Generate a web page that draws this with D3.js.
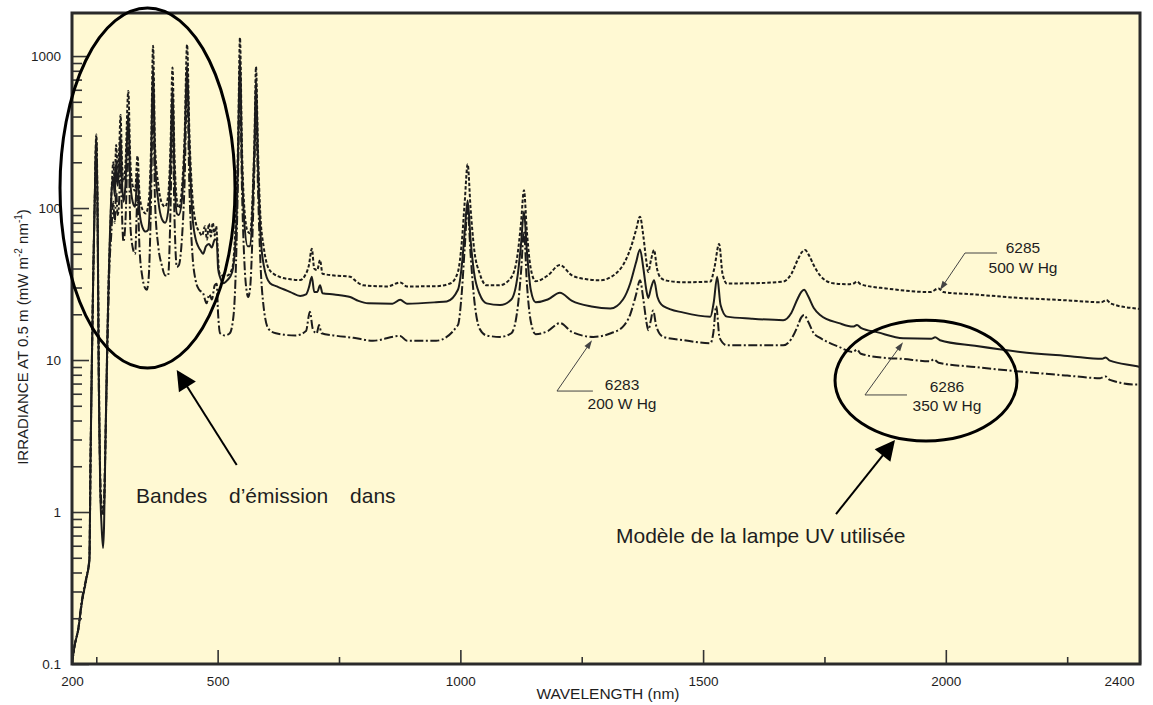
<!DOCTYPE html>
<html><head><meta charset="utf-8">
<script src="https://cdn.jsdelivr.net/npm/d3@7"></script>
<style>
body{margin:0;background:#fff}
svg text{font-family:"Liberation Sans",Arial,Helvetica,sans-serif;fill:#1e1e1e}
</style>
</head><body>
<svg id="chart" width="1153" height="705"></svg>
<script>
// ---------- DATA ----------
const xTickValues = [200, 500, 1000, 1500, 2000, 2400];
const xTickLabels = ["200", "500", "1000", "1500", "2000", "2400"];
const xMinorTicks = [250, 750, 1250, 1750, 2250];
const yTickValues = [0.1, 1, 10, 100, 1000];
const yTickLabels = ["0.1", "1", "10", "100", "1000"];

// 6285 - 500 W Hg (dotted)
const lamp6285 = [[200,0.1],[205,0.13],[213,0.17],[220,0.25],[230,0.37],[236,0.5],[238,2],[241,10],[244,40],[247,120],[250,305],[253,80],[255,12],[257,3],[259,1.2],[262,1.0],[264,0.95],[266,1.1],[269,3],[272,10],[275,30],[278,60],[282,140],[285,200],[288,150],[291,260],[294,180],[297,230],[300,410],[303,200],[306,150],[310,190],[316,590],[320,210],[325,140],[330,130],[335,220],[339,125],[345,98],[352,92],[358,110],[363,260],[367,1170],[371,260],[378,140],[385,108],[392,102],[398,120],[403,260],[407,840],[411,230],[416,112],[420,100],[426,130],[432,300],[437,1190],[442,300],[448,120],[455,80],[462,70],[468,66],[474,76],[478,62],[482,79],[486,65],[490,80],[494,66],[497,76],[500,55],[503,38],[510,36],[520,36],[530,40],[537,80],[542,260],[546,1320],[550,260],[555,100],[562,70],[567,68],[572,120],[576,300],[579,850],[583,250],[588,90],[595,55],[605,40],[615,37],[630,35],[650,34],[670,33.6],[680,36],[688,42],[694,54],[699,40],[705,39],[711,45.5],[716,37],[740,36],[773,35.3],[785,33],[800,31],[850,30.5],[876,32.4],[890,30.5],[950,30.6],[980,32],[995,38],[1003,60],[1009,110],[1015,194],[1021,100],[1028,55],[1040,37],[1054,31],[1080,31],[1105,35],[1118,50],[1125,80],[1131,131],[1137,70],[1145,40],[1155,33],[1180,36],[1205,42.2],[1230,36],[1260,34],[1288,33.5],[1320,37],[1340,45],[1352,56],[1362,72],[1370,87.7],[1377,65],[1383,45],[1387,38],[1393,46],[1399,53],[1405,40],[1412,35],[1425,33.3],[1460,32.5],[1515,32.8],[1523,40],[1533,58],[1540,37],[1549,31.9],[1600,32],[1665,32.8],[1682,37],[1694,45],[1703,51],[1710,53],[1718,49],[1728,42],[1741,36],[1768,32],[1800,31.5],[1810,31.9],[1817,32.8],[1825,31.5],[1880,29.5],[1968,28],[1985,29.6],[1995,28],[2060,27],[2153,25.6],[2250,24.7],[2320,24],[2331,24.8],[2340,23.5],[2394,21.8],[2400,21.7]];

// 6286 - 350 W Hg (solid)
const lamp6286 = [[200,0.1],[205,0.13],[213,0.17],[220,0.25],[230,0.37],[236,0.48],[238,2],[241,10],[244,40],[247,120],[250,290],[253,70],[255,8],[258,1.5],[261,0.8],[264,0.58],[266,0.8],[269,3],[273,15],[277,50],[281,120],[285,160],[288,120],[291,200],[294,140],[297,180],[300,300],[303,150],[306,110],[310,140],[316,420],[320,150],[325,110],[330,102],[335,170],[339,95],[345,75],[352,70],[357,72],[363,200],[367,850],[371,200],[378,110],[385,85],[392,80],[398,95],[403,200],[407,620],[411,170],[416,92],[420,90],[426,110],[432,250],[437,870],[442,240],[448,90],[455,62],[460,56],[466,52],[470,50],[476,56],[482,58],[488,55],[494,62],[498,62],[501,40],[505,35],[512,32],[520,33.5],[530,38],[538,70],[542,220],[546,1000],[550,200],[555,80],[562,56],[567,56],[572,100],[576,260],[579,700],[583,200],[588,70],[595,42],[608,32],[622,30.5],[650,28],[670,26.4],[682,27],[688,30],[694,35.3],[699,28],[705,28],[711,31],[716,27.5],[740,27],[773,26],[790,24.5],[810,23.6],[860,23.5],[876,24.9],[890,23.5],[950,24],[972,24.3],[995,29],[1003,42],[1009,70],[1015,112],[1021,62],[1028,38],[1040,27],[1054,23.6],[1082,23],[1105,25],[1118,36],[1125,58],[1131,95],[1137,52],[1145,29],[1155,24],[1180,25],[1205,27.7],[1230,24.5],[1270,22.5],[1309,21.8],[1335,25],[1350,32],[1362,44],[1370,53.4],[1377,40],[1383,29],[1387,25.6],[1393,30],[1399,33.5],[1406,26],[1418,22.6],[1460,20.5],[1515,19.3],[1522,24],[1529,35.3],[1536,23],[1549,19.3],[1600,18.7],[1665,18.3],[1682,20.5],[1694,25],[1702,28],[1708,29],[1716,26.5],[1728,22],[1741,19.8],[1780,17.5],[1809,16.6],[1817,17.0],[1825,16.3],[1860,15.2],[1912,13.9],[1970,13.8],[1978,14.1],[1988,13.5],[2060,12.4],[2153,11.3],[2256,10.6],[2322,10.2],[2329,10.4],[2338,9.9],[2394,9.1],[2400,9.0]];

// 6283 - 200 W Hg (dash-dot)
const lamp6283 = [[200,0.1],[205,0.13],[213,0.17],[220,0.26],[230,0.38],[236,0.5],[238,2],[241,10],[244,40],[247,120],[250,280],[253,60],[255,8],[258,1.8],[261,1.1],[263,1.0],[266,1.2],[269,3],[273,12],[277,40],[281,68],[285,110],[288,80],[291,130],[294,90],[297,110],[300,200],[303,90],[306,60],[310,80],[316,300],[320,80],[325,55],[330,50],[335,120],[339,55],[345,35],[350,30],[354,29],[358,35],[363,120],[367,600],[371,110],[378,55],[385,42],[392,36],[398,36],[403,100],[407,450],[411,90],[416,41],[420,42],[426,60],[432,150],[437,650],[442,130],[448,50],[455,33],[462,29],[470,27.5],[477,23.6],[483,27],[488,25],[494,31],[498,31.8],[501,20],[505,15],[515,14.5],[525,15],[533,20],[538,45],[542,160],[546,750],[550,140],[555,45],[560,28],[563,26],[567,30],[572,70],[576,200],[579,500],[583,140],[588,45],[595,22],[605,16],[620,15],[660,14.5],[682,15.5],[690,20.8],[696,16],[704,15],[709,17],[714,15],[740,14.5],[780,14],[820,13.4],[876,14.4],[890,13.4],[950,13.4],[995,17],[1003,28],[1009,55],[1015,100],[1021,50],[1028,26],[1040,16],[1054,14.5],[1082,14.2],[1105,15],[1118,22],[1125,38],[1131,70],[1137,32],[1145,18],[1155,14.8],[1180,15.5],[1205,17.5],[1230,15.3],[1274,14.2],[1310,15],[1335,16.6],[1350,20],[1362,27],[1370,33.5],[1377,25],[1383,18],[1387,15.7],[1392,18],[1397,21.2],[1404,16.5],[1418,14.2],[1460,13.5],[1515,12.9],[1521,15],[1527,22.6],[1534,14],[1549,12.5],[1600,12.5],[1665,12.5],[1682,13.8],[1694,16.5],[1702,19],[1708,19.8],[1716,18],[1728,15],[1741,14],[1780,12.2],[1809,11.3],[1817,11.7],[1825,11],[1880,10.3],[1906,10.2],[1968,9.8],[1975,10.1],[1985,9.6],[2060,9],[2153,8.4],[2250,7.9],[2318,7.6],[2329,7.8],[2338,7.4],[2394,6.9],[2400,6.9]];

const seriesNames = ["6285 500 W Hg", "6286 350 W Hg", "6283 200 W Hg"];

// ---------- CHART ----------
const svg = d3.select("#chart");
const L = 72, R = 1140, T = 13, B = 664;
const x = d3.scaleLinear().domain([200, 2400]).range([L, R]);
const y = d3.scaleLog().domain([0.1, 1920]).range([B, T]);

svg.append("rect").attr("x", L).attr("y", T).attr("width", R - L).attr("height", B - T)
  .attr("fill", "#fff9d3");

svg.append("clipPath").attr("id", "clip").append("rect")
  .attr("x", L).attr("y", T).attr("width", R - L).attr("height", B - T);

const line = d3.line().x(d => x(d[0])).y(d => y(d[1])).curve(d3.curveMonotoneX);
const series = [
  {data: lamp6285, dash: "3.5,2"},
  {data: lamp6286, dash: null},
  {data: lamp6283, dash: "9,2.5,2,2.5"}
];
const gLines = svg.append("g").attr("clip-path", "url(#clip)");
series.forEach((s, i) => {
  gLines.append("path").datum(s.data).attr("d", line)
    .attr("fill", "none").attr("stroke", "#1c1c1c").attr("stroke-width", 2)
    .attr("stroke-linejoin", "round")
    .attr("stroke-dasharray", s.dash).attr("data-name", seriesNames[i]);
});

// axes
function styleAxis(g) {
  g.select(".domain").remove();
  g.selectAll(".tick line").attr("stroke", "#333").attr("stroke-width", 1.6);
  g.selectAll(".tick text").attr("fill", "#222")
    .style("font-family", '"Liberation Sans",Arial,sans-serif').style("font-size", "13.5px");
}
const gx = svg.append("g").attr("transform", `translate(0,${B})`)
  .call(d3.axisBottom(x).tickValues(xTickValues).tickSize(-14).tickPadding(12)
    .tickFormat((d, i) => xTickLabels[i]));
styleAxis(gx);
gx.selectAll(".tick text").filter(d => d === 2400).attr("text-anchor", "end").attr("dx", -6);
const gxm = svg.append("g").attr("transform", `translate(0,${B})`)
  .call(d3.axisBottom(x).tickValues(xMinorTicks).tickSize(-7).tickFormat(""));
styleAxis(gxm);

const gy = svg.append("g").attr("transform", `translate(${L},0)`)
  .call(d3.axisLeft(y).tickValues(yTickValues).tickSize(-17).tickPadding(11)
    .tickFormat((d, i) => yTickLabels[i]));
styleAxis(gy);
const yMinor = y.ticks().filter(t => !yTickValues.some(v => Math.abs(v - t) < 1e-9));
const gym = svg.append("g").attr("transform", `translate(${L},0)`)
  .call(d3.axisLeft(y).tickValues(yMinor).tickSize(-10).tickFormat(""));
styleAxis(gym);

// frame
svg.append("rect").attr("x", L).attr("y", T).attr("width", R - L).attr("height", B - T)
  .attr("fill", "none").attr("stroke", "#2a2a2a").attr("stroke-width", 3);

// axis titles
svg.append("text").attr("x", 608).attr("y", 699).attr("text-anchor", "middle")
  .style("font-size", "15.5px").text("WAVELENGTH (nm)");
const yt = svg.append("text").attr("transform", "translate(28,337) rotate(-90)")
  .attr("text-anchor", "middle").style("font-size", "15px");
yt.append("tspan").text("IRRADIANCE AT 0.5 m (mW m");
yt.append("tspan").attr("dy", -6).style("font-size", "10px").text("-2");
yt.append("tspan").attr("dy", 6).text(" nm");
yt.append("tspan").attr("dy", -6).style("font-size", "10px").text("-1");
yt.append("tspan").attr("dy", 6).text(")");

// ---------- ANNOTATIONS (in data coordinates) ----------
function arrow(from, to, color, width, headL, headW) {
  const x1 = x(from[0]), y1 = y(from[1]), x2 = x(to[0]), y2 = y(to[1]);
  const dx = x2 - x1, dy = y2 - y1, len = Math.hypot(dx, dy);
  const ux = dx / len, uy = dy / len, nx = -uy, ny = ux;
  const bx = x2 - ux * headL, by = y2 - uy * headL;
  svg.append("line").attr("x1", x1).attr("y1", y1).attr("x2", bx + ux * 2).attr("y2", by + uy * 2)
    .attr("stroke", color).attr("stroke-width", width);
  svg.append("polygon").attr("points",
    [[x2, y2], [bx + nx * headW / 2, by + ny * headW / 2], [bx - nx * headW / 2, by - ny * headW / 2]]
      .map(p => p.join(",")).join(" ")).attr("fill", color);
}
function leader(tip, corner, end) {
  svg.append("polyline").attr("points",
    [[x(end[0]), y(end[1])], [x(corner[0]), y(corner[1])]].map(p => p.join(",")).join(" "))
    .attr("fill", "none").attr("stroke", "#444").attr("stroke-width", 1);
  arrow(corner, tip, "#444", 1, 9, 6);
}
function label2(cx, v1, v2, t1, t2) {
  svg.append("text").attr("x", x(cx)).attr("y", y(v1)).attr("text-anchor", "middle")
    .style("font-size", "15.5px").text(t1);
  svg.append("text").attr("x", x(cx)).attr("y", y(v2)).attr("text-anchor", "middle")
    .style("font-size", "15.5px").text(t2);
}
leader([1988, 28.9], [2039.5, 50.6], [2105.5, 50.6]);
label2(2159, 50.6, 37.3, "6285", "500 W Hg");
leader([1911.8, 13.1], [1833.5, 5.89], [1920, 5.89]);
label2(2002.4, 6.15, 4.61, "6286", "350 W Hg");
leader([1271.2, 13.5], [1199, 6.25], [1273, 6.25]);
label2(1333, 6.34, 4.76, "6283", "200 W Hg");

// ellipses
function ellipse(nmRange, irrRange) {
  const x0 = x(nmRange[0]), x1 = x(nmRange[1]), y0 = y(irrRange[1]), y1 = y(irrRange[0]);
  svg.append("ellipse").attr("cx", (x0 + x1) / 2).attr("cy", (y0 + y1) / 2)
    .attr("rx", (x1 - x0) / 2).attr("ry", (y1 - y0) / 2)
    .attr("fill", "none").attr("stroke", "#000").attr("stroke-width", 3);
}
ellipse([175.3, 535.8], [8.85, 2070]);
ellipse([1771.8, 2146.6], [2.93, 18.3]);

arrow([539.3, 2.04], [415.7, 8.6], "#000", 2, 20, 20);
arrow([1773.8, 0.97], [1895.3, 2.98], "#000", 2, 20, 20);

svg.append("text").attr("x", x(331.8)).attr("y", y(1.146)).style("font-size", "21px")
  .style("word-spacing", "16px").text("Bandes d’émission dans");
svg.append("text").attr("x", x(1320.6)).attr("y", y(0.625)).style("font-size", "21px")
  .text("Modèle de la lampe UV utilisée");
</script>
</body></html>
